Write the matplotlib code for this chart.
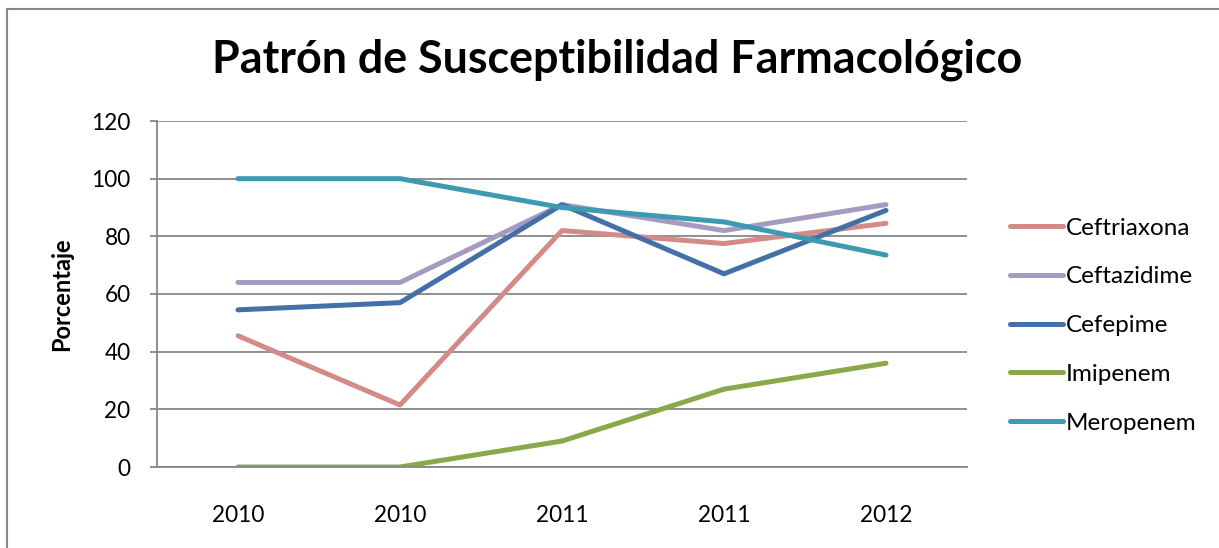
import matplotlib
matplotlib.use("Agg")
import matplotlib.pyplot as plt
from matplotlib.patches import Rectangle

plt.rcParams['font.family'] = ['Lato', 'DejaVu Sans']

title = "Patrón de Susceptibilidad Farmacológico"
ylabel = "Porcentaje"
categories = ["2010", "2010", "2011", "2011", "2012"]
series_names = ["Ceftriaxona", "Ceftazidime", "Cefepime", "Imipenem", "Meropenem"]
ceftriaxona = [45.5, 21.5, 82, 77.5, 84.5]
ceftazidime = [64, 64, 91, 82, 91]
cefepime = [54.5, 57, 91, 67, 89]
imipenem = [0, 0, 9, 27, 36]
meropenem = [100, 100, 90, 85, 73.5]
series_values = [ceftriaxona, ceftazidime, cefepime, imipenem, meropenem]
colors = ["#D38B89", "#A69AC0", "#4470A8", "#89A84A", "#3D9AB0"]
yticks = [0, 20, 40, 60, 80, 100, 120]

W, H = 1219, 548
fig = plt.figure(figsize=(W / 100, H / 100), dpi=100)

# outer chart border (top and left visible)
fig.add_artist(Rectangle((7 / W, -0.05), 1.2, (H - 9) / H + 0.05, transform=fig.transFigure,
                         fill=False, edgecolor="#878787", linewidth=1.5))

ax = fig.add_axes([157 / W, 1 - 467 / H, (967 - 157) / W, (467 - 121) / H])
x = list(range(len(categories)))
for name, vals, c in zip(series_names, series_values, colors):
    ax.plot(x, vals, color=c, linewidth=3.6, label=name, solid_capstyle="round",
            solid_joinstyle="round")

ax.set_xlim(-0.5, len(categories) - 0.5)
ax.set_ylim(0, 120)
ax.set_yticks(yticks)
ax.set_xticks(x)
ax.set_xticklabels(categories)
ax.yaxis.grid(True, color="#878787", linewidth=1.3)
ax.set_axisbelow(True)
for side in ["top", "right"]:
    ax.spines[side].set_visible(False)
for side in ["left", "bottom"]:
    ax.spines[side].set_color("#878787")
    ax.spines[side].set_linewidth(1.3)
ax.tick_params(axis="y", length=5, color="#878787", width=1.3, labelsize=16.3, pad=14)
ax.tick_params(axis="x", length=0, labelsize=16.3, pad=27)

ax.set_ylabel(ylabel, fontsize=17, fontweight="bold", labelpad=13)

fig.text(617 / W, 1 - 60 / H, title, ha="center", va="center", fontsize=32.3, fontweight="bold")

leg = fig.legend(loc="upper left", bbox_to_anchor=(1000 / W, 1 - 208 / H), frameon=False,
                 fontsize=17.5, handlelength=2.2, handletextpad=0.1, labelspacing=1.14,
                 borderaxespad=0)

fig.savefig("out.png", dpi=100)
